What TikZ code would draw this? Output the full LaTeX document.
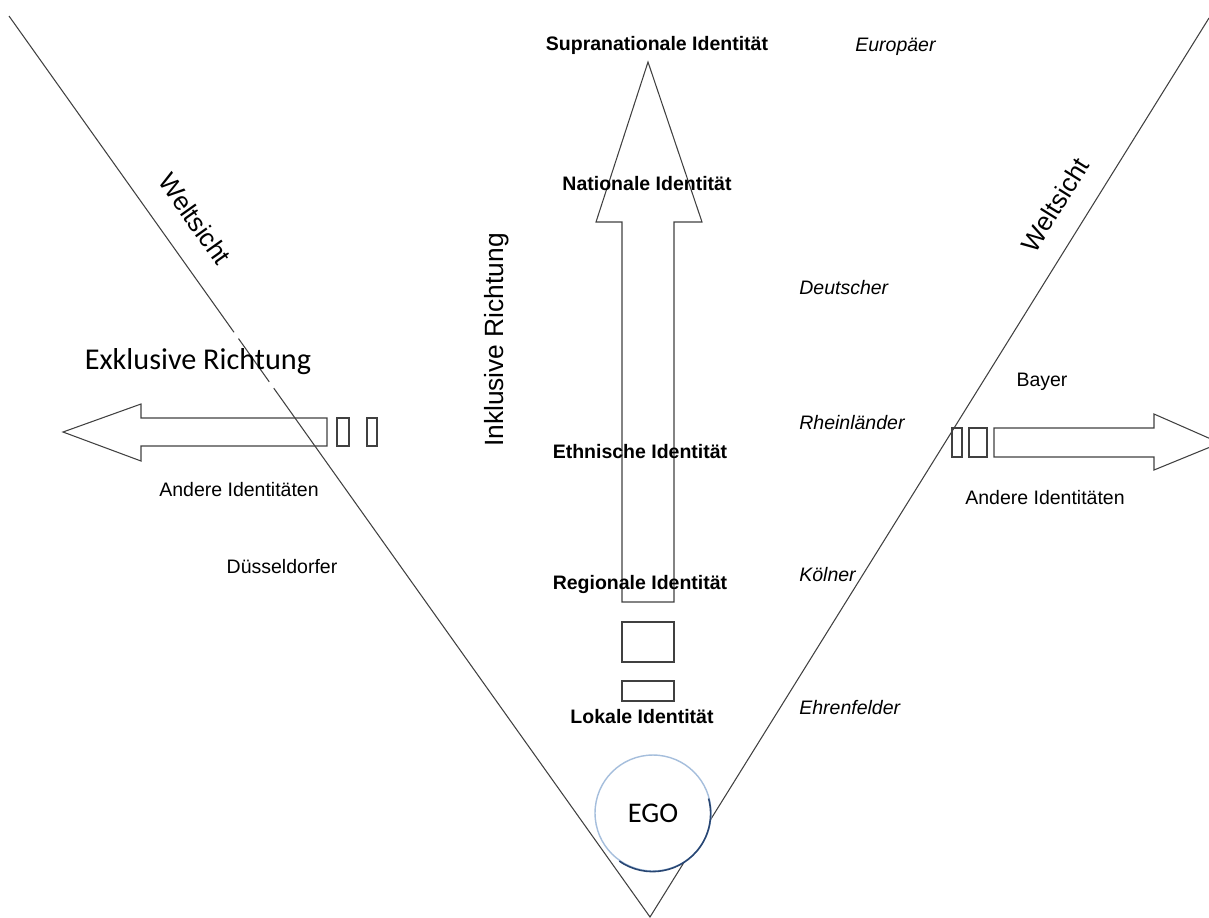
\documentclass[tikz,border=0pt]{standalone}
\usepackage{fontspec}
\setmainfont{Liberation Sans}
\newfontfamily\calibri{Carlito}
\usetikzlibrary{positioning,calc}

\tikzset{
  linie/.style={draw=black!75, line width=0.6pt},
  lbl/.style={inner sep=0pt, font=\fontsize{11.1}{13}\selectfont},
  idlbl/.style={inner sep=0pt, font=\fontsize{11.1}{13}\selectfont\bfseries},
  ortlbl/.style={inner sep=0pt, anchor=west, font=\fontsize{11.1}{13}\selectfont\itshape},
  sichtlbl/.style={inner sep=0pt, font=\fontsize{14.7}{17}\selectfont}
}

\begin{document}
\begin{tikzpicture}[x=0.02cm, y=-0.02cm]
				\clip (0,0) rectangle (1209,917);
				
				\coordinate (spitze) at (650,917);
				\coordinate (linksoben) at (9,16);
				\coordinate (rechtsoben) at (1209,18);
				\draw[linie] (linksoben) -- ($(linksoben)!0.351!(spitze)$);
				\draw[linie] ($(linksoben)!0.358!(spitze)$) -- ($(linksoben)!0.406!(spitze)$);
				\draw[linie] ($(linksoben)!0.413!(spitze)$) -- (spitze) -- (rechtsoben);
				
				\draw[linie] (648,62) -- (702,222) -- (674,222) -- (674,602) -- (622,602) -- (622,222) -- (596,222) -- cycle;
				\draw[linie] (622,622) rectangle (674,662);
				\draw[linie] (622,681) rectangle (674,701);
				
				\draw[linie] (63,432) -- (141,404) -- (141,418) -- (327,418) -- (327,446) -- (141,446) -- (141,461) -- cycle;
				\draw[linie] (337,418) rectangle (349,446);
				\draw[linie] (367,418) rectangle (377,446);
				
				\draw[linie] (1220,443) -- (1154,470) -- (1154,457) -- (994,457) -- (994,428) -- (1154,428) -- (1154,414) -- cycle;
				\draw[linie] (952,428) rectangle (962,457);
				\draw[linie] (969,428) rectangle (987,457);
				
				\node[idlbl] (supra) at (657,45) {Supranationale Identität};
				\node[idlbl] (national) at (647,184) {Nationale Identität};
				\node[idlbl] (ethnisch) at (640,452) {Ethnische Identität};
				\node[idlbl] (regional) at (640,584) {Regionale Identität};
				\node[idlbl] (lokal) at (642,717) {Lokale Identität};
				
				\node[ortlbl] (europaeer) at (855,47) {Europäer};
				\node[ortlbl] (deutscher) at (799,288) {Deutscher};
				\node[ortlbl] (rheinlaender) at (799,423) {Rheinländer};
				\node[ortlbl] (koelner) at (799,575) {Kölner};
				\node[ortlbl] (ehrenfelder) at (799,708) {Ehrenfelder};
				
				\node[lbl] (bayer) at (1042,382) {Bayer};
				\node[lbl] (andererechts) at (1045,498) {Andere Identitäten};
				\node[lbl] (anderelinks) at (239,490) {Andere Identitäten};
				\node[lbl] (duesseldorfer) at (282,567) {Düsseldorfer};
				
				\node[inner sep=0pt, font=\calibri\fontsize{17.2}{20}\selectfont] (exklusiv) at (198,362) {Exklusive Richtung};
				\node[sichtlbl, rotate=90, font=\fontsize{15}{18}\selectfont] (inklusiv) at (497,340) {Inklusive Richtung};
				\node[sichtlbl, rotate=-54.5] (sichtlinks) at (195,219) {Weltsicht};
				\node[sichtlbl, rotate=58] (sichtrechts) at (1055,205) {Weltsicht};
				
				\node[circle, draw={rgb,255:red,165;green,190;blue,220}, line width=0.8pt, fill=white, minimum size=2.32cm, inner sep=0pt, font=\calibri\fontsize{16.2}{19}\selectfont] (ego) at (653,813) {EGO};
				\draw[draw={rgb,255:red,40;green,70;blue,115}, line width=0.9pt] (ego.-125) arc[start angle=-125, end angle=15, radius=1.16cm];
			\end{tikzpicture}
\end{document}
